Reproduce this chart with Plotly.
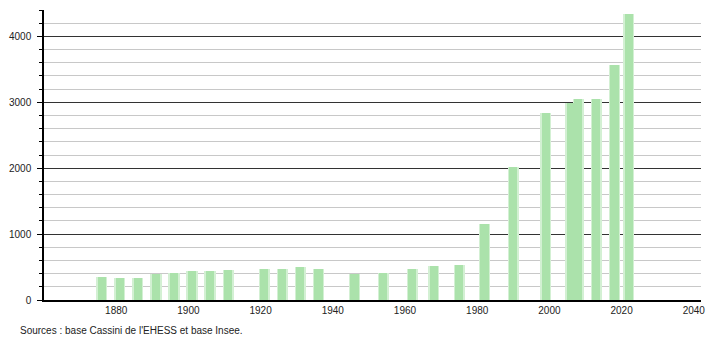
import plotly.graph_objects as go

years = [1876, 1881, 1886, 1891, 1896, 1901, 1906, 1911, 1921, 1926, 1931, 1936,
         1946, 1954, 1962, 1968, 1975, 1982, 1990, 1999, 2006, 2008, 2013, 2018, 2022]
population = [355, 335, 335, 396, 416, 441, 441, 462, 477, 477, 497, 477,
              396, 416, 477, 523, 538, 1157, 2024, 2831, 2994, 3049, 3049, 3562, 4338]
x_ticks = [1880, 1900, 1920, 1940, 1960, 1980, 2000, 2020, 2040]
y_ticks = [0, 1000, 2000, 3000, 4000]
source_text = "Sources : base Cassini de l'EHESS et base Insee."

fig = go.Figure()
# soft outer edge
fig.add_trace(go.Bar(x=years, y=population, width=3.1,
                     marker=dict(color="#d3f0d3", line=dict(width=0)),
                     hoverinfo="skip"))
# main bar body
fig.add_trace(go.Bar(x=years, y=population, width=2.3,
                     marker=dict(color="#abe2ab", line=dict(width=0))))

fig.update_layout(
    width=710, height=340,
    margin=dict(l=44, r=9, t=10, b=40),
    paper_bgcolor="white", plot_bgcolor="white",
    showlegend=False, barmode="overlay", bargap=0,
    font=dict(family="Liberation Sans, Arial, sans-serif", size=10, color="#222"),
    xaxis=dict(range=[1860, 2042], tickvals=x_ticks, showgrid=False,
               showline=True, linecolor="black", linewidth=1.5,
               ticks="", zeroline=False, fixedrange=True, automargin=False),
    yaxis=dict(range=[0, 4400], tickvals=y_ticks, showgrid=True,
               gridcolor="#333", gridwidth=1,
               showline=True, linecolor="black", linewidth=1.5,
               ticks="outside", ticklen=5, tickcolor="black",
               ticklabelstandoff=4, zeroline=False, automargin=False,
               minor=dict(dtick=200, showgrid=True, gridcolor="#c8c8c8",
                          ticks="outside", ticklen=3, tickcolor="black"),
               fixedrange=True),
    annotations=[dict(text=source_text, xref="paper", yref="paper",
                      x=-0.040, y=-0.105, xanchor="left", yanchor="middle",
                      showarrow=False, font=dict(size=10, color="#222"))],
)
fig.write_html("out.html")
